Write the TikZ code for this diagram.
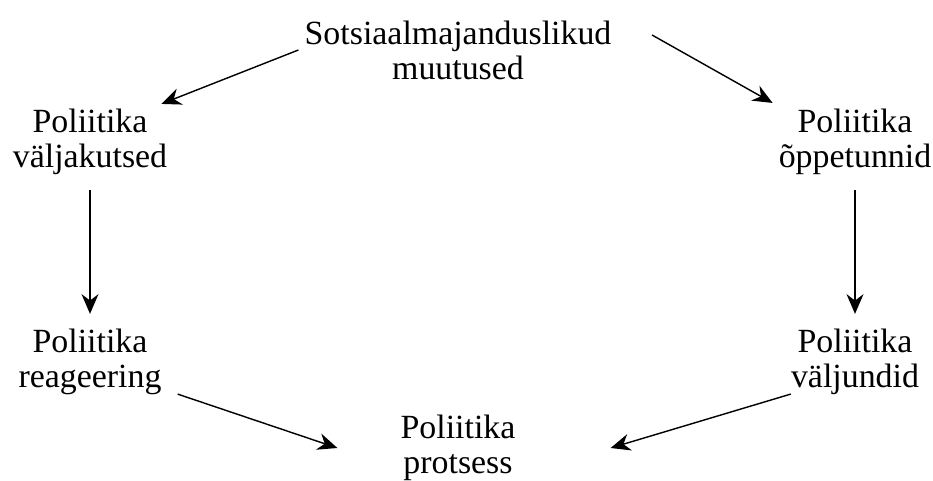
\documentclass[tikz,border=0pt]{standalone}
\usepackage{fontspec}
\setmainfont{Liberation Serif}
\usetikzlibrary{arrows.meta,calc}

\begin{document}
\begin{tikzpicture}[x=0.01245cm,y=-0.01245cm,
  box/.style={align=center,inner sep=2pt,font=\fontsize{12}{12.4}\selectfont},
  flow/.style={-{Stealth[length=7pt,width=6pt]},line width=0.5pt}]
\useasboundingbox (0,0) rectangle (933,481);
\node[box] (soc) at (458,50)  {Sotsiaalmajanduslikud\\muutused};
\node[box] (chal) at (90,142)  {Poliitika\\väljakutsed};
\node[box] (less) at (855,142) {Poliitika\\õppetunnid};
\node[box] (resp) at (90,362)  {Poliitika\\reageering};
\node[box] (outc) at (855,362) {Poliitika\\väljundid};
\node[box] (proc) at (458,448) {Poliitika\\protsess};
\coordinate (socr) at (652,35);
\draw[flow] (soc.west) -- ($(chal.north east)+(-12,1)$);
\draw[flow] (socr) -- (less.north west);
\draw[flow] ($(chal.south)+(0,9)$) -- ($(resp.north)+(0,-9)$);
\draw[flow] ($(less.south)+(0,9)$) -- ($(outc.north)+(0,-9)$);
\draw[flow] ($(resp.south east)+(10,-7)$) -- ($(proc.west)+(-57,0)$);
\draw[flow] ($(outc.south west)+(6,-7)$) -- ($(proc.east)+(89,0)$);
\end{tikzpicture}
\end{document}
